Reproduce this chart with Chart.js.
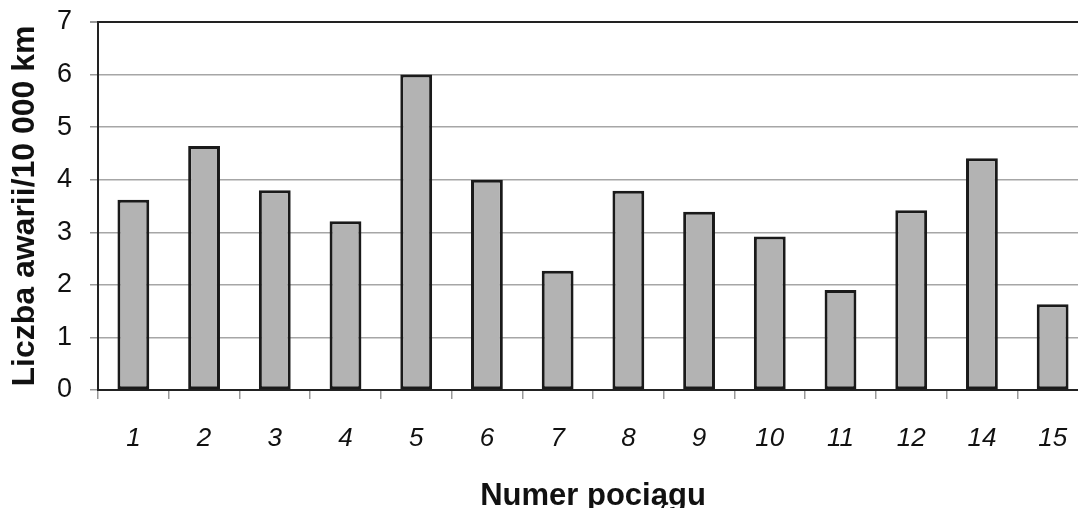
<!DOCTYPE html>
<html>
<head>
<meta charset="utf-8">
<script src="https://cdn.jsdelivr.net/npm/chart.js@4/dist/chart.umd.min.js"></script>
<style>
  html, body { margin: 0; padding: 0; background: #fff; overflow: hidden; }
  #wrap { width: 1088px; height: 512px; }
</style>
</head>
<body>
<div id="wrap"><canvas id="chart" width="1088" height="512"></canvas></div>
<script>
// ---- Data ----
const trains = ["1", "2", "3", "4", "5", "6", "7", "8", "9", "10", "11", "12", "14", "15"];
const failures = [3.62, 4.64, 3.80, 3.21, 6.0, 4.0, 2.27, 3.79, 3.39, 2.92, 1.90, 3.42, 4.41, 1.63];
const yTicks = [0, 1, 2, 3, 4, 5, 6, 7];

const FONT = "'Liberation Sans', Arial, sans-serif";

new Chart(document.getElementById("chart"), {
  type: "bar",
  data: {
    labels: trains,
    datasets: [{
      data: failures,
      backgroundColor: "#b3b3b3",
      borderColor: "#1a1a1a",
      borderWidth: 3,
      borderSkipped: false,
      barPercentage: 0.45,
      categoryPercentage: 1,
    }],
  },
  options: {
    responsive: false,
    animation: false,
    layout: { padding: { top: 22, left: 0, right: 0, bottom: 0 } },
    plugins: { legend: { display: false }, tooltip: { enabled: false } },
    scales: {
      x: {
        offset: true,
        grid: {
          offset: true,
          drawOnChartArea: false,
          tickLength: 9,
          tickColor: "#999",
          lineWidth: 1.5,
        },
        border: { color: "#222", width: 2 },
        ticks: {
          padding: 24,
          color: "#111",
          font: { family: FONT, size: 26, style: "italic" },
        },
        title: {
          display: true,
          text: "Numer pociągu",
          color: "#111",
          font: { family: FONT, size: 31, weight: "bold", lineHeight: 1 },
          padding: { top: 0, bottom: 0 },
        },
        afterFit: scale => {
          scale.height = 122;
          scale.paddingLeft = 0;
          scale.paddingRight = 0;
        },
      },
      y: {
        min: 0,
        max: 7,
        afterBuildTicks: scale => { scale.ticks = yTicks.map(v => ({ value: v })); },
        grid: {
          color: ctx => ctx.tick && ctx.tick.value === 7 ? "#222" : "#a6a6a6",
          lineWidth: ctx => ctx.tick && ctx.tick.value === 7 ? 2 : 1.5,
          tickLength: 8,
          tickColor: "#999",
        },
        border: { color: "#222", width: 2 },
        ticks: {
          padding: 18,
          color: "#111",
          font: { family: FONT, size: 27 },
        },
        title: {
          display: true,
          text: "Liczba awarii/10 000 km",
          color: "#111",
          font: { family: FONT, size: 32, weight: "bold", lineHeight: 1 },
          padding: { top: 9, bottom: 0 },
        },
        afterFit: scale => {
          scale.width = 98;
          scale.paddingTop = 0;
          scale.paddingBottom = 0;
        },
      },
    },
  },
});
</script>
</body>
</html>
